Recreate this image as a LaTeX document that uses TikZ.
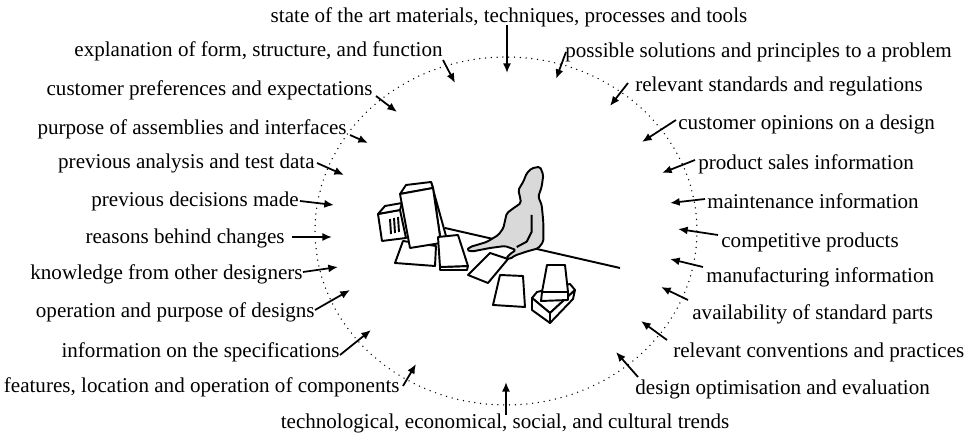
\documentclass[tikz,border=0pt]{standalone}
\usepackage{fontspec}
\setmainfont{Liberation Serif}
\usetikzlibrary{arrows.meta}
\begin{document}
\begin{tikzpicture}[x=0.02cm,y=-0.02cm,
  lab/.style={inner sep=0pt, font=\fontsize{12}{14}\selectfont},
  labl/.style={lab, anchor=mid east},
  labr/.style={lab, anchor=mid west},
  arr/.style={line width=1pt, -{Latex[length=5.5pt,width=4.6pt]}},
  ring/.style={line width=0.85pt, line cap=round, dash pattern=on 0pt off 3.3pt},
  fig/.style={line width=1.1pt, line join=round},
  paper/.style={fig, fill=white},
  body/.style={fig, fill=gray!30, rounded corners=1pt}]
\useasboundingbox (0,0) rectangle (968,438);

% dotted boundary around the designer
\draw[ring] (506,231) ellipse [x radius=3.82cm, y radius=3.48cm];

% ---------- labels ----------
\node[lab, anchor=mid] (top) at (509,18) {state of the art materials, techniques, processes and tools};
\node[lab, anchor=mid] (bot) at (505,424) {technological, economical, social, and cultural trends};

\node[labl] (l1)  at (443,52)  {explanation of form, structure, and function};
\node[labl] (l2)  at (373,91)  {customer preferences and expectations};
\node[labl] (l3)  at (347,130) {purpose of assemblies and interfaces};
\node[labl] (l4)  at (315,164) {previous analysis and test data};
\node[labl] (l5)  at (299,202) {previous decisions made};
\node[labl] (l6)  at (285,239) {reasons behind changes};
\node[labl] (l7)  at (303,275) {knowledge from other designers};
\node[labl] (l8)  at (315,313) {operation and purpose of designs};
\node[labl] (l9)  at (340,353) {information on the specifications};
\node[labl] (l10) at (400,388) {features, location and operation of components};

\node[labr] (r1)  at (565,53)  {possible solutions and principles to a problem};
\node[labr] (r2)  at (635,87)  {relevant standards and regulations};
\node[labr] (r3)  at (678,125) {customer opinions on a design};
\node[labr] (r4)  at (698,165) {product sales information};
\node[labr] (r5)  at (707,204) {maintenance information};
\node[labr] (r6)  at (721,243) {competitive products};
\node[labr] (r7)  at (706,278) {manufacturing information};
\node[labr] (r8)  at (692,315) {availability of standard parts};
\node[labr] (r9)  at (673,353) {relevant conventions and practices};
\node[labr] (r10) at (635,390) {design optimisation and evaluation};

% ---------- arrow end points ----------
\coordinate (tops) at (507,25);  \coordinate (tope) at (507,73);
\coordinate (bots) at (506,415); \coordinate (bote) at (506,382);
\coordinate (l1s) at (443,60);   \coordinate (l1e) at (455,83);
\coordinate (l2s) at (376,96);   \coordinate (l2e) at (397,112);
\coordinate (l3s) at (350,135);  \coordinate (l3e) at (368,143);
\coordinate (l4s) at (317,163);  \coordinate (l4e) at (344,175);
\coordinate (l5s) at (300,201);  \coordinate (l5e) at (334,205);
\coordinate (l6s) at (292,237);  \coordinate (l6e) at (332,237);
\coordinate (l7s) at (303,272);  \coordinate (l7e) at (338,267);
\coordinate (l8s) at (315,310);  \coordinate (l8e) at (350,290);
\coordinate (l9s) at (340,355);  \coordinate (l9e) at (371,330);
\coordinate (l10s) at (403,386); \coordinate (l10e) at (416,364);
\coordinate (r1s) at (566,52);   \coordinate (r1e) at (556,79);
\coordinate (r2s) at (628,83);   \coordinate (r2e) at (610,106);
\coordinate (r3s) at (676,120);  \coordinate (r3e) at (642,142);
\coordinate (r4s) at (695,160);  \coordinate (r4e) at (662,173);
\coordinate (r5s) at (705,199);  \coordinate (r5e) at (670,203);
\coordinate (r6s) at (718,235);  \coordinate (r6e) at (678,229);
\coordinate (r7s) at (703,267);  \coordinate (r7e) at (670,259);
\coordinate (r8s) at (688,300);  \coordinate (r8e) at (661,287);
\coordinate (r9s) at (667,340);  \coordinate (r9e) at (641,321);
\coordinate (r10s) at (638,377); \coordinate (r10e) at (616,352);

\foreach \a in {top,bot,l1,l2,l3,l4,l5,l6,l7,l8,l9,l10,r1,r2,r3,r4,r5,r6,r7,r8,r9,r10}
  \draw[arr] (\a s) -- (\a e);

% ---------- designer at the desk ----------
% second unit with vents
\draw[paper] (378,214) -- (400,210) -- (406,238) -- (382,241) -- cycle;
\draw[paper] (378,214) -- (385,206) -- (402,203) -- (400,210) -- cycle;
\draw[fig] (390,219) -- (391,234) (394,218) -- (395,233) (398,217) -- (399,232);
% keyboard
\draw[paper] (403,241) -- (395,263) -- (435,266) -- (436,246) -- cycle;
% monitor
\draw[paper] (433,188) -- (431,182) -- (446,236) -- (441,243) -- cycle;
\draw[paper] (400,194) -- (406,185) -- (431,182) -- (433,188) -- cycle;
\draw[paper] (400,194) -- (433,188) -- (441,243) -- (410,248) -- cycle;
% desk edge
\draw[fig] (445,228) -- (620,268);
% papers
\draw[paper] (440,270) -- (467,270) -- (468,266) -- (440,267) -- cycle;
\draw[paper] (438,237) -- (458,235) -- (468,266) -- (440,267) -- cycle;
\draw[paper] (468,275) -- (490,253) -- (508,259) -- (488,283) -- cycle;
\draw[paper] (500,275) -- (523,276) -- (525,307) -- (493,305) -- cycle;
% person
\draw[body] (526.7,173.3) -- (531.7,168.3) -- (540,166.7) -- (543.3,175)
  -- (541.7,186.7) -- (538.3,196.7) -- (541.7,205) -- (543.3,221.7)
  -- (543.3,241.7) -- (538.3,248.3) -- (526.7,251.5) -- (515,255.5)
  -- (510,259) -- (506,258.5) -- (510,254) -- (516,250) -- (505,246)
  -- (490,248) -- (472,251.5) -- (466.7,250) -- (470,247) -- (486.7,242)
  -- (498.3,235) -- (503.3,228.3) -- (506.7,213.3) -- (513.3,208.3)
  -- (521,203) -- (520,197) -- (518.3,190) -- (523.3,181.7) -- cycle;
\draw[fig] (531.7,215) -- (531.7,231.7) -- (526.7,241.7) -- (516.7,247);
% box with book
\draw[paper] (532,298) -- (537,292) -- (570,284) -- (575,290) -- (550,313) -- cycle;
\draw[paper] (532,298) -- (550,313) -- (550,323) -- (532,310) -- cycle;
\draw[paper] (550,313) -- (575,290) -- (573,299) -- (550,323) -- cycle;
\draw[paper] (542,292) -- (568,292) -- (568,300) -- (541,301) -- cycle;
\draw[paper] (547,265) -- (565,265) -- (568,292) -- (542,292) -- cycle;
\end{tikzpicture}
\end{document}
